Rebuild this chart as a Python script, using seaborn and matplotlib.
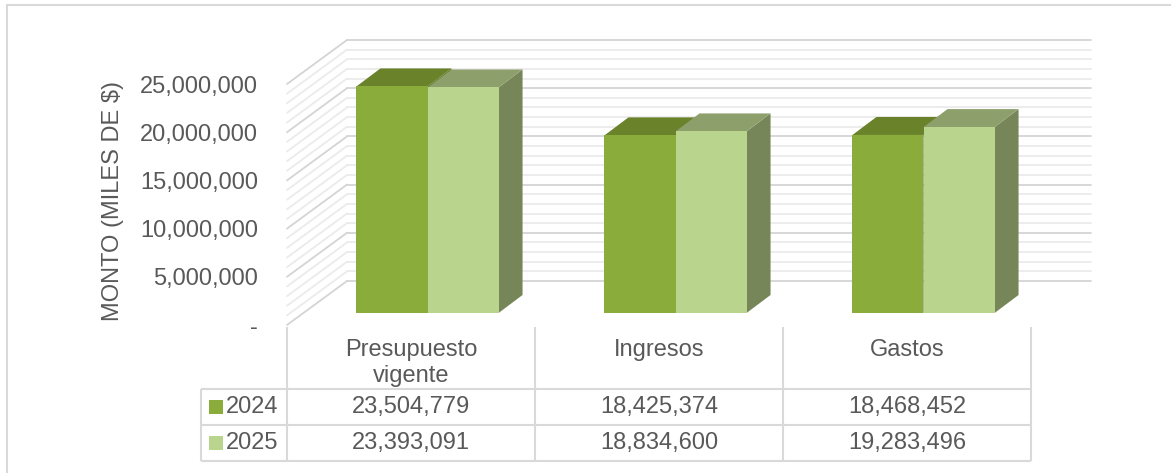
import matplotlib
matplotlib.use('Agg')
import matplotlib.pyplot as plt
from matplotlib.patches import Polygon, Rectangle
from matplotlib.ticker import FuncFormatter
import pandas as pd
import seaborn as sns

# ---- data ----
categorias = ['Presupuesto\nvigente', 'Ingresos', 'Gastos']
anios = ['2024', '2025']
valores_2024 = [23504779, 18425374, 18468452]
valores_2025 = [23393091, 18834600, 19283496]
ticks_y = [0, 5000000, 10000000, 15000000, 20000000, 25000000]

# ---- colours ----
color_frente = {'2024': '#8aac3a', '2025': '#b9d48d'}
color_tapa = {'2024': '#6a822a', '2025': '#8d9f6b'}
color_lado = {'2024': '#5f7526', '2025': '#778658'}
gris_texto = '#595959'
gris_linea = '#d9d9d9'
grid_mayor = '#d4d4d4'
grid_menor = '#ebebeb'
fs = 17

W, H = 1171, 473
sns.set_style('white')
plt.rcParams['font.family'] = ['Liberation Sans', 'DejaVu Sans']

fig = plt.figure(figsize=(W / 100, H / 100), dpi=100)

# front plane of the 3d box, in pixels
fx0, fx1, fy0, fy1 = 287, 1031, 325, 84
ax = fig.add_axes([fx0 / W, 1 - fy0 / H, (fx1 - fx0) / W, (fy0 - fy1) / H])

ux = (fx1 - fx0) / 3          # px per category
uy = (fy0 - fy1) / 25e6       # px per peso


def px(dx, dy):
    # pixel offset -> data offset (dy positive = up)
    return dx / ux, dy / uy


df = pd.DataFrame({
    'categoria': categorias * 2,
    'anio': [anios[0]] * 3 + [anios[1]] * 3,
    'monto': valores_2024 + valores_2025,
})
sns.barplot(data=df, x='categoria', y='monto', hue='anio', order=categorias,
            hue_order=anios, palette=color_frente, width=0.573, saturation=1,
            linewidth=0, errorbar=None, legend=False, ax=ax)

ax.set_xlim(-0.5, 2.5)
ax.set_ylim(0, 25e6)

# back wall + left wall grid
wx, wy = px(60, 44)
for v in range(0, 25000001, 1000000):
    mayor = v % 5000000 == 0
    c = grid_mayor if mayor else grid_menor
    ax.plot([-0.5 + wx, 2.5 + wx], [v + wy, v + wy], color=c, lw=1.3,
            zorder=0.5, clip_on=False)
    ax.plot([-0.5, -0.5 + wx], [v, v + wy], color=c, lw=1.3,
            zorder=0.5, clip_on=False)

# push bars back into the box and give them a top and a side
bx, by = px(16.5, 12)
ddx, ddy = px(24, 18)
for r in list(ax.patches):
    cx = r.get_x() + r.get_width() / 2
    anio = '2024' if cx < round(cx) else '2025'
    z = 2 if anio == '2024' else 4
    x0 = r.get_x() + bx
    w, h = r.get_width(), r.get_height()
    r.set_xy((x0, by))
    r.set_clip_on(False)
    r.set_zorder(z)
    lado = Polygon([(x0 + w, by), (x0 + w + ddx, by + ddy),
                    (x0 + w + ddx, by + h + ddy), (x0 + w, by + h)],
                   closed=True, fc=color_lado[anio], lw=0, zorder=z - 1,
                   clip_on=False)
    tapa = Polygon([(x0, by + h), (x0 + w, by + h),
                    (x0 + w + ddx, by + h + ddy), (x0 + ddx, by + h + ddy)],
                   closed=True, fc=color_tapa[anio], lw=0, zorder=z - 1,
                   clip_on=False)
    ax.add_patch(lado)
    ax.add_patch(tapa)

ax.set_yticks(ticks_y)
ax.yaxis.set_major_formatter(FuncFormatter(lambda v, p: '-' if v == 0 else f'{v:,.0f}'))
ax.tick_params(axis='y', length=0, pad=21, labelsize=fs, labelcolor=gris_texto)
ax.set_xticks([])
ax.set_xlabel('')
ax.set_ylabel('MONTO (MILES DE $)', fontsize=fs, color=gris_texto)
ax.yaxis.set_label_coords((124 - fx0) / (fx1 - fx0), (fy0 - 201) / (fy0 - fy1))
for s in ax.spines.values():
    s.set_visible(False)
ax.set_facecolor('none')

# ---- data table under the chart ----
tab_top, tab_h = 327, 134
ax_t = fig.add_axes([fx0 / W, 1 - (tab_top + tab_h) / H, (fx1 - fx0) / W, tab_h / H])
ax_t.set_xlim(-0.5, 2.5)
ax_t.set_ylim(tab_h, 0)
ax_t.axis('off')

y_head, y_r1, y_r2 = 62, 98, 134
xl = -0.5 - 86 / ux
lk = dict(color=gris_linea, lw=1.5, clip_on=False, solid_capstyle='butt')
for xv in [-0.5, 0.5, 1.5, 2.5]:
    ax_t.plot([xv, xv], [0, y_head], **lk)
for xv in [xl, -0.5, 0.5, 1.5, 2.5]:
    ax_t.plot([xv, xv], [y_head, y_r2], **lk)
for yv in [y_head, y_r1, y_r2]:
    ax_t.plot([xl, 2.5], [yv, yv], **lk)

for i, cat in enumerate(categorias):
    n = cat.count('\n') + 1
    ax_t.text(i, 23 + 13 * (n - 1), cat, ha='center', va='center',
              fontsize=fs, color=gris_texto, linespacing=1.22)

filas = [(anios[0], valores_2024, (y_head + y_r1) / 2),
         (anios[1], valores_2025, (y_r1 + y_r2) / 2)]
for anio, vals, yc in filas:
    ax_t.plot([xl + 15 / ux], [yc], marker='s', ms=9.5, mew=0,
              color=color_frente[anio], clip_on=False)
    ax_t.text(xl + 25 / ux, yc, anio, ha='left', va='center', fontsize=fs,
              color=gris_texto, clip_on=False)
    for i, v in enumerate(vals):
        ax_t.text(i, yc, f'{v:,}', ha='center', va='center', fontsize=fs,
                  color=gris_texto)

# outer chart border (only top/left show in the crop)
fig.add_artist(Rectangle((7 / W, -0.05), 1.2, (H - 5) / H + 0.05,
                         transform=fig.transFigure, fill=False,
                         ec=gris_linea, lw=1.5))

fig.savefig('out.png', dpi=100)
